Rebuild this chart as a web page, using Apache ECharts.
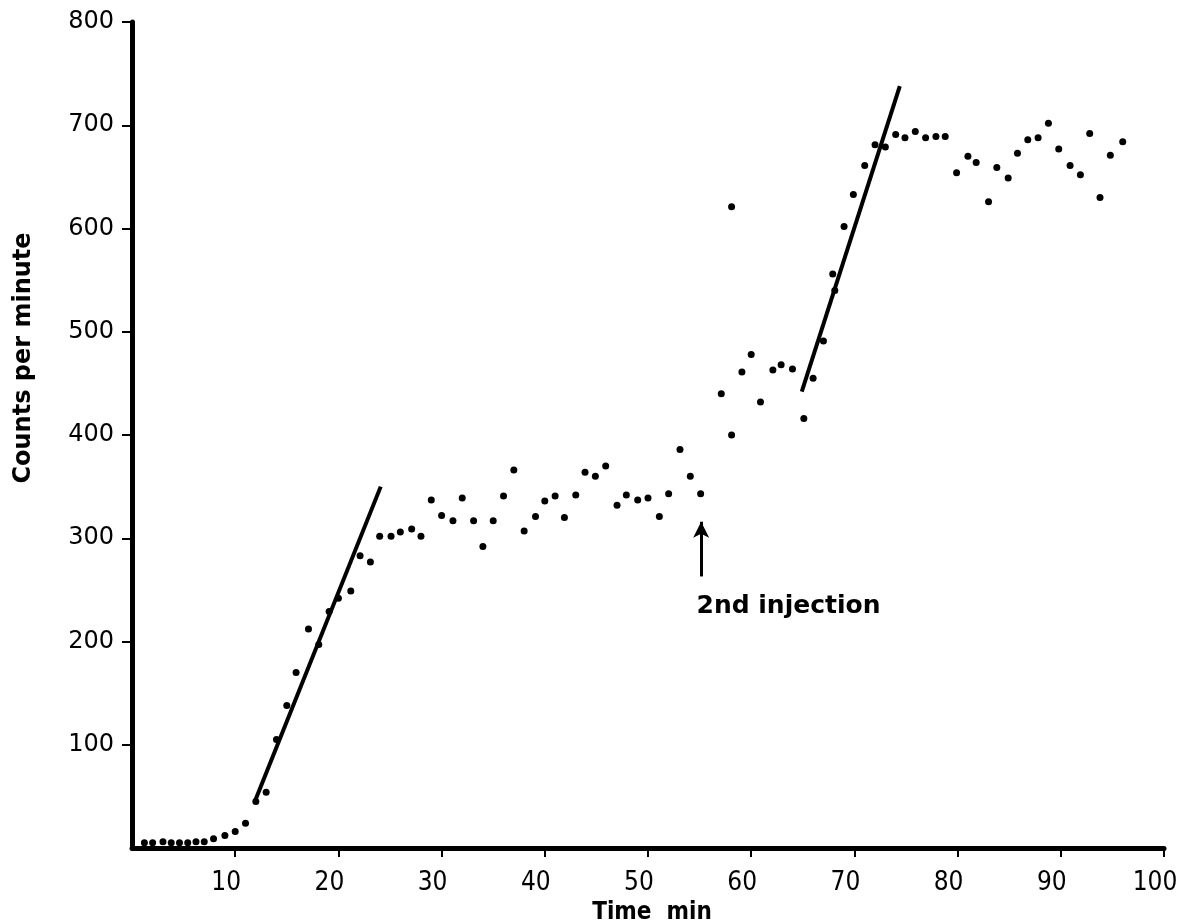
<!DOCTYPE html>
<html>
<head>
<meta charset="utf-8">
<script src="https://cdn.jsdelivr.net/npm/echarts@6/dist/echarts.min.js"></script>
<style>html,body{margin:0;padding:0;background:#fff}#c{width:1196px;height:922px}</style>
</head>
<body>
<div id="c"></div>
<script>
// ---- data ----
const times = [1.2,2,3,3.8,4.6,5.4,6.2,7,7.9,9,10,11,12,13,14,15,15.9,17.1,18.1,19.1,20,21.2,22.1,23.1,24,25.1,26,27.1,28,29,30,31.1,32,33.1,34,35,36,37,38,39.1,40,41,41.9,43,43.9,44.9,45.9,47,47.9,49,50,51.1,52,53.1,54.1,55.1,57.1,58.1,58.1,59.1,60,60.9,62.1,62.9,64,65.1,66,67,67.9,68.1,69,69.9,71,72,73,74,74.9,75.9,76.9,77.9,78.8,79.9,81,81.8,83,83.8,84.9,85.8,86.8,87.8,88.8,89.8,90.9,91.9,92.8,93.8,94.8,96];
const counts = [5,5,6,5,5,5,6,6,9,12,16,24,45,54,105,138,170,212,197,229,242,249,283,277,302,302,306,309,302,337,322,317,339,317,292,317,341,366,307,321,336,341,320,342,364,360,370,332,342,337,339,321,343,386,360,343,440,400,621,461,478,432,463,468,464,416,455,491,556,540,602,633,661,681,679,691,688,694,688,689,689,654,670,664,626,659,649,673,686,688,702,677,661,652,692,630,671,684];
const fit1Time = [11.9, 24.1];
const fit1Counts = [45, 350];
const fit2Time = [64.9, 74.4];
const fit2Counts = [442, 738];
const injectionTime = 55.15;
const arrowFrom = 263;
const arrowTo = 316;
const injectionLabel = '2nd injection';
const injectionLabelPos = [54.7, 234];
const xTickValues = [10,20,30,40,50,60,70,80,90,100];
const yTickValues = [100,200,300,400,500,600,700,800];
const xTitle = 'Time  min';
const yTitle = 'Counts per minute';

const pts = times.map((t, i) => [t, counts[i]]);
const fit1 = fit1Time.map((t, i) => [t, fit1Counts[i]]);
const fit2 = fit2Time.map((t, i) => [t, fit2Counts[i]]);

const narrow = "'Liberation Sans Narrow','DejaVu Sans Condensed','Liberation Sans',sans-serif";
const chart = echarts.init(document.getElementById('c'));
chart.setOption({
  animation: false,
  backgroundColor: '#fff',
  grid: { left: 132, right: 32, top: 22, bottom: 74, containLabel: false, outerBoundsMode: 'none' },
  xAxis: {
    type: 'value', min: 0, max: 100, interval: 10,
    name: xTitle, nameLocation: 'middle', nameGap: 46,
    nameTextStyle: { color: '#000', fontSize: 24, fontWeight: 'bold', fontFamily: narrow, padding: [0, 0, 0, 8] },
    axisLine: { show: true, onZero: false, lineStyle: { color: '#000', width: 5 } },
    axisTick: { show: true, inside: false, length: 9, customValues: xTickValues, lineStyle: { color: '#000', width: 2 } },
    axisLabel: { customValues: xTickValues, color: '#000', fontSize: 26, margin: 22, padding: [0, 18, 0, 0], fontFamily: narrow },
    splitLine: { show: false }
  },
  yAxis: {
    type: 'value', min: 0, max: 800, interval: 100,
    name: yTitle, nameLocation: 'middle', nameGap: 96, nameRotate: 90,
    nameTextStyle: { color: '#000', fontSize: 24, fontWeight: 'bold', fontFamily: "'DejaVu Sans',sans-serif", padding: [0, 0, 0, 154] },
    axisLine: { show: true, onZero: false, lineStyle: { color: '#000', width: 5 } },
    axisTick: { show: true, inside: false, length: 10, customValues: yTickValues, lineStyle: { color: '#000', width: 2 } },
    axisLabel: { customValues: yTickValues, color: '#000', fontSize: 24, margin: 18, fontFamily: "'DejaVu Sans',sans-serif" },
    splitLine: { show: false }
  },
  series: [
    {
      type: 'scatter', data: pts, symbol: 'circle', symbolSize: 7,
      itemStyle: { color: '#000', opacity: 1 }, z: 3,
      markLine: {
        silent: true, symbol: ['none', 'arrow'], symbolSize: [12, 16],
        lineStyle: { color: '#000', width: 3, type: 'solid' },
        label: { show: false },
        data: [[{ coord: [injectionTime, arrowFrom] }, { coord: [injectionTime, arrowTo] }]]
      },
      markPoint: {
        silent: true, symbol: 'circle', symbolSize: 0,
        data: [{ coord: injectionLabelPos, value: injectionLabel }],
        label: { show: true, position: 'right', distance: 0, formatter: injectionLabel, color: '#000', fontSize: 25, fontWeight: 'bold', fontFamily: "'DejaVu Sans',sans-serif" }
      }
    },
    { type: 'line', data: fit1, symbol: 'none', lineStyle: { color: '#000', width: 4 }, z: 2 },
    { type: 'line', data: fit2, symbol: 'none', lineStyle: { color: '#000', width: 4 }, z: 2 }
  ]
});
</script>
</body>
</html>
